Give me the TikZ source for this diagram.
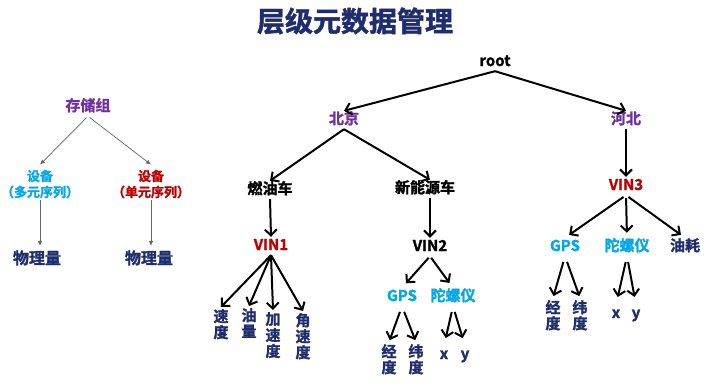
\documentclass[tikz,border=0pt]{standalone}
\usepackage{fontspec}
\setmainfont{Noto Sans CJK SC Bold}[FakeBold=1.6]
\usetikzlibrary{arrows.meta}
\definecolor{cpurple}{RGB}{112,48,160}
\definecolor{cred}{RGB}{192,0,0}
\definecolor{cblue}{RGB}{0,168,232}
\definecolor{cnavy}{RGB}{31,45,110}
\tikzset{
  lab/.style={font=\fontsize{15}{16}\selectfont, inner sep=2pt},
  t/.style={lab, text height=11pt, text depth=3pt},
  leaf/.style={lab, text=cnavy, align=center, anchor=north},
  lab2/.style={font=\fontsize{13}{16}\selectfont, inner sep=2pt, align=center},
  arr/.style={line width=2pt, -{Straight Barb[length=6pt,width=12pt]}},
  thinarr/.style={line width=0.7pt, draw=black!60, -{Latex[length=5pt,width=4.5pt]}},
  titlestyle/.style={font=\fontsize{28}{30}\selectfont, text=cnavy, inner sep=0pt}
}
\begin{document}
\begin{tikzpicture}[x=1pt,y=-1pt]
\useasboundingbox (0,0) rectangle (706,384);
\node[titlestyle] (title) at (355,21) {层级元数据管理};

% left tree
\node[t,text=cpurple] (ccz) at (88,107) {存储组};
\node[lab2,text=cblue] (sb1) at (40,184) {设备\\（多元序列）};
\node[lab2,text=cred] (sb2) at (151,184) {设备\\（单元序列）};
\node[t,text=cnavy,font=\fontsize{16}{17}\selectfont] (wl1) at (37,260) {物理量};
\node[t,text=cnavy,font=\fontsize{16}{17}\selectfont] (wl2) at (149,260) {物理量};
\draw[thinarr, shorten <=2pt] (ccz.south) -- ([yshift=3pt]sb1.north);
\draw[thinarr, shorten <=2pt] (ccz.south) -- ([yshift=3pt]sb2.north);
\draw[thinarr] (sb1.south) -- ([yshift=5pt]sb1.south |- wl1.north);
\draw[thinarr] (sb2.south) -- ([yshift=5pt]sb2.south |- wl2.north);

% main tree
\node[t] (root) at (495,62) {root};
\node[t,text=cpurple] (bj) at (344,120) {北京};
\node[t,text=cpurple] (hb) at (626,120) {河北};
\node[t] (ryc) at (270,190) {燃油车};
\node[t] (xny) at (425,189) {新能源车};
\node[t,text=cred] (vin1) at (271,246) {VIN1};
\node[t] (vin2) at (430,247) {VIN2};
\node[t,text=cred] (vin3) at (626,186) {VIN3};

\node[leaf] (sd1) at (221,307) {速\\度};
\node[leaf] (yl) at (249,306) {油\\量};
\node[leaf] (jsd) at (273,310) {加\\速\\度};
\node[leaf] (jiao) at (303,311) {角\\速\\度};

\node[t,text=cblue] (gps2) at (402,297) {GPS};
\node[t,text=cblue] (tly2) at (453,297) {陀螺仪};
\node[leaf] (jd2) at (389,342) {经\\度};
\node[leaf] (wd2) at (416,342) {纬\\度};
\node[t,text=cnavy] (x2) at (444,355) {x};
\node[t,text=cnavy] (y2) at (465,355) {y};

\node[t,text=cblue] (gps3) at (565,247) {GPS};
\node[t,text=cblue] (tly3) at (627,247) {陀螺仪};
\node[t,text=cnavy] (yh) at (685,247) {油耗};
\node[leaf] (jd3) at (553,298) {经\\度};
\node[leaf] (wd3) at (580,298) {纬\\度};
\node[t,text=cnavy] (x3) at (616,314) {x};
\node[t,text=cnavy] (y3) at (636,314) {y};

\draw[arr] (root.south) -- (bj.north);
\draw[arr] (root.south) -- (hb.north);
\draw[arr] (bj.south) -- (ryc.north);
\draw[arr] (bj.south) -- ([xshift=5pt]xny.north);
\draw[arr] (ryc.south) -- (vin1.north);
\draw[arr] (xny.south -| vin2.north) -- (vin2.north);
\draw[arr] (hb.south) -- (vin3.north);

\draw[arr] (vin1.south) -- (sd1.north);
\draw[arr] (vin1.south) -- (yl.north);
\draw[arr] (vin1.south) -- (jsd.north);
\draw[arr] (vin1.south) -- (jiao.north);

\draw[arr, shorten <=2pt, shorten >=6pt] (vin2.south) -- (gps2.north);
\draw[arr, shorten <=2pt, shorten >=6pt] (vin2.south) -- (tly2.north);
\draw[arr, shorten <=6pt, shorten >=2pt] (gps2.south) -- (jd2.north);
\draw[arr, shorten <=6pt, shorten >=2pt] (gps2.south) -- (wd2.north);
\draw[arr, shorten <=6pt, shorten >=8pt] (tly2.south) -- (x2.north);
\draw[arr, shorten <=6pt, shorten >=8pt] (tly2.south) -- (y2.north);

\draw[arr, shorten <=3pt, shorten >=5pt] (vin3.south) -- (gps3.north);
\draw[arr, shorten <=3pt, shorten >=5pt] (vin3.south) -- (tly3.north);
\draw[arr, shorten <=3pt, shorten >=5pt] (vin3.south) -- (yh.north);
\draw[arr, shorten <=6pt, shorten >=2pt] (gps3.south) -- (jd3.north);
\draw[arr, shorten <=6pt, shorten >=2pt] (gps3.south) -- (wd3.north);
\draw[arr, shorten <=6pt, shorten >=8pt] (tly3.south) -- (x3.north);
\draw[arr, shorten <=6pt, shorten >=8pt] (tly3.south) -- (y3.north);
\end{tikzpicture}
\end{document}
